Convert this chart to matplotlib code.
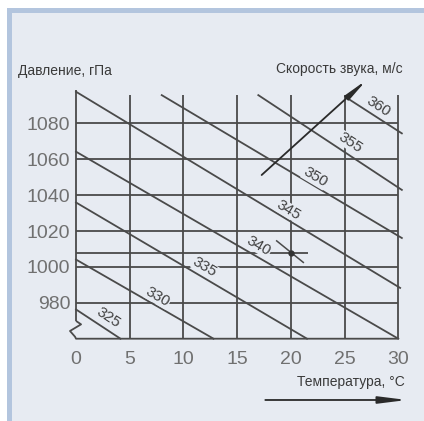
import numpy as np
import matplotlib
matplotlib.use("Agg")
import matplotlib.pyplot as plt
from matplotlib import font_manager
from matplotlib.patches import Rectangle

# grid of the nomogram
temps = [0, 5, 10, 15, 20, 25, 30]
temp_labels = ["0", "5", "10", "15", "20", "25", "30"]
pressures = [980, 1000, 1020, 1040, 1060, 1080]
pressure_labels = ["980", "1000", "1020", "1040", "1060", "1080"]
p_marked = 1008          # extra pressure line
t_marked = 20            # marked point on it

# lines of equal speed of sound (start / end points)
speeds = [325, 330, 335, 340, 345, 350, 355, 360]
line_t0 = [0, 0, 0, 0, 0, 7.98, 16.97, 25.05]
line_p0 = [976.3, 1004.1, 1035.9, 1064.2, 1097.6, 1095.7, 1095.7, 1094.8]
line_t1 = [4.14, 12.8, 21.5, 30.0, 30.17, 30.33, 30.33, 30.33]
line_p1 = [960, 960, 960, 960, 988.3, 1016.1, 1042.9, 1074.4]
label_t = [2.98, 7.63, 12.0, 17.03, 19.73, 22.25, 25.5, 28.11]
label_p = [971.8, 983.2, 999.7, 1011.6, 1031.7, 1049.8, 1069.3, 1089.4]

BG = "#e7ebf2"
BAND = "#b3c5de"
INK = "#4a4a4a"

names = {f.name for f in font_manager.fontManager.ttflist}
narrow = "Liberation Sans Narrow" if "Liberation Sans Narrow" in names else "Liberation Sans"
digits = "Liberation Sans"

fig = plt.figure(figsize=(4.24, 4.21), dpi=100)
fig.patch.set_facecolor("white")

# panel with blue band on top and left
W, H = 424, 421
fig.patches.append(Rectangle((7 / W, 0), 1 - 7 / W, 1 - 8 / H, transform=fig.transFigure,
                             facecolor=BAND, edgecolor="none", zorder=-2))
fig.patches.append(Rectangle((12 / W, 0), 1 - 12 / W, 1 - 13 / H, transform=fig.transFigure,
                             facecolor=BG, edgecolor="none", zorder=-1))

ax = fig.add_axes([76 / W, 1 - 338.7 / H, 322.3 / W, 244.1 / H])
ax.set_facecolor("none")
ax.set_xlim(0, 30)
ax.set_ylim(960, 1096)
for s in ax.spines.values():
    s.set_visible(False)

ax.set_xticks(temps)
ax.set_xticklabels(temp_labels)
ax.set_yticks(pressures)
ax.set_yticklabels(pressure_labels)
ax.tick_params(axis="x", length=0, pad=9, labelsize=14, labelcolor="#707070")
ax.tick_params(axis="y", length=0, pad=4, labelsize=14, labelcolor="#707070")
for lab in ax.get_xticklabels() + ax.get_yticklabels():
    lab.set_family(digits)

kw = dict(color=INK, lw=1.3, clip_on=False, zorder=1, solid_capstyle="butt")

# vertical grid lines
for t in temps[1:]:
    ax.plot([t, t], [960, 1096], **kw)
ax.plot([0, 0], [969.9, 1098.5], **kw)
# axis break and bottom line
ax.plot([0, 0.47, -0.56, -0.09, 0, 30], [969.9, 968.0, 964.3, 961.1, 960, 960], **kw)
# horizontal grid lines
for p in pressures:
    ax.plot([0, 30], [p, p], **kw)
ax.plot([0, 21.62], [p_marked, p_marked], **kw)

# speed lines with labels sitting on them
for sp, t0, p0, t1, p1, lt, lp in zip(speeds, line_t0, line_p0, line_t1, line_p1,
                                      label_t, label_p):
    ax.plot([t0, t1], [p0, p1], color=INK, lw=1.3, clip_on=False, zorder=2)
    a = ax.transData.transform([(t0, p0), (t1, p1)])
    ang = np.degrees(np.arctan2(a[1, 1] - a[0, 1], a[1, 0] - a[0, 0]))
    ax.text(lt, lp, str(sp), rotation=ang, rotation_mode="anchor", ha="center",
            va="center", fontsize=11, color="#404040", family=digits, zorder=3,
            bbox=dict(facecolor=BG, edgecolor="none", pad=0.2))

# marked point
ax.plot([18.68, 21.16], [1014.5, 1002.5], color=INK, lw=1.1, clip_on=False, zorder=2)
ax.plot([t_marked], [p_marked], "o", color="#333333", ms=3.5, clip_on=False, zorder=4)

# speed arrow
ax.annotate("", xy=(27.06, 1104.2), xytext=(17.28, 1051.2), annotation_clip=False,
            arrowprops=dict(arrowstyle="-|>,head_length=1.0,head_width=0.12",
                            color="#2a2a2a", lw=1.3, shrinkA=0, shrinkB=0,
                            mutation_scale=14), zorder=2)
# temperature arrow
ax.annotate("", xy=(30.81, 925.85), xytext=(17.62, 925.85), annotation_clip=False,
            arrowprops=dict(arrowstyle="-|>,head_length=1.2,head_width=0.15",
                            color="#2a2a2a", lw=1.3, shrinkA=0, shrinkB=0,
                            mutation_scale=14))

ax.text(-5.4, 1109.1, "Давление, гПа", ha="left", va="center", fontsize=10,
        color="#3a3a3a", family=narrow, clip_on=False)
ax.text(30.41, 1110.0, "Скорость звука, м/с", ha="right", va="center", fontsize=10,
        color="#3a3a3a", family=narrow, clip_on=False)
ax.text(30.62, 935.6, "Температура, °C", ha="right", va="center", fontsize=10,
        color="#3a3a3a", family=narrow, clip_on=False)

fig.savefig("out.png", dpi=100, facecolor=fig.get_facecolor())
